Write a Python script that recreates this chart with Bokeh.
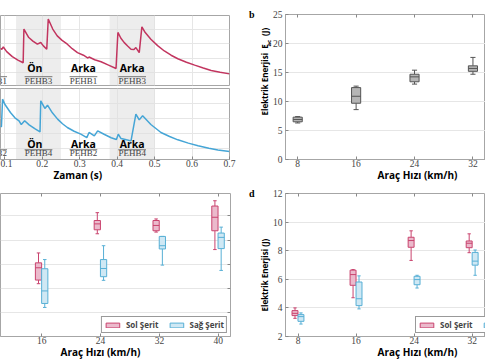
from bokeh.plotting import figure
from bokeh.layouts import column, row
from bokeh.models import BoxAnnotation, FixedTicker, Title, LinearAxis
from bokeh.core.properties import value
from bokeh.embed import file_html
from bokeh.resources import INLINE

# ---------------- data: panel a (time signals) ----------------
t_sol = [0.088, 0.092, 0.096, 0.105, 0.120, 0.135, 0.149, 0.151, 0.164, 0.175, 0.187, 0.196, 0.203,
         0.212, 0.216, 0.228, 0.240, 0.253, 0.267, 0.280, 0.294, 0.310, 0.322, 0.325, 0.340, 0.357,
         0.377, 0.397, 0.402, 0.410, 0.419, 0.428, 0.437, 0.445, 0.450, 0.459, 0.466, 0.475, 0.490,
         0.508, 0.526, 0.544, 0.562, 0.585, 0.607, 0.630, 0.651, 0.675, 0.700]
e_sol = [2.69, 2.62, 2.78, 2.45, 2.10, 1.85, 1.67, 4.05, 3.45, 3.20, 2.98, 3.10, 2.86,
         2.62, 4.76, 4.05, 3.57, 3.25, 2.98, 2.66, 2.38, 2.20, 2.00, 2.07, 1.88, 1.74,
         1.50, 1.26, 3.81, 3.40, 3.09, 2.85, 2.62, 2.60, 2.74, 2.38, 4.21, 3.80, 3.33,
         2.88, 2.50, 2.20, 1.95, 1.70, 1.50, 1.30, 1.12, 1.00, 0.88]

t_sag = [0.088, 0.091, 0.094, 0.100, 0.115, 0.127, 0.138, 0.144, 0.153, 0.165, 0.180, 0.194, 0.196,
         0.207, 0.214, 0.227, 0.241, 0.254, 0.267, 0.285, 0.303, 0.319, 0.325, 0.339, 0.348, 0.365,
         0.384, 0.398, 0.403, 0.410, 0.425, 0.437, 0.450, 0.459, 0.468, 0.490, 0.517, 0.540, 0.562,
         0.590, 0.616, 0.645, 0.669, 0.700]
e_sag = [2.50, 2.45, 4.29, 3.95, 3.40, 3.05, 2.85, 2.60, 2.85, 2.58, 2.32, 2.11, 4.18,
         3.67, 3.89, 3.38, 2.96, 2.65, 2.40, 2.15, 1.96, 1.73, 2.07, 1.84, 2.18, 1.95,
         1.72, 1.60, 1.96, 1.67, 1.58, 1.51, 3.29, 2.91, 3.18, 2.60, 2.07, 1.80, 1.58,
         1.36, 1.18, 1.02, 0.91, 0.80]

shade_start = [0.13, 0.38]
shade_end = [0.25, 0.50]

phase_t = [0.18, 0.31, 0.44]
phase_txt = ["Ön", "Arka", "Arka"]
sensor_t = [0.069, 0.19, 0.31, 0.44]
sensor_sol = ["PEHB1", "PEHB3", "PEHB1", "PEHB3"]
sensor_sag = ["PEHB2", "PEHB4", "PEHB2", "PEHB4"]
time_ticks = [0.1, 0.2, 0.3, 0.4, 0.5, 0.6, 0.7]

# ---------------- data: panel b ----------------
speeds_b = [8, 16, 24, 32]
b_low = [6.3, 8.6, 13.0, 14.7]
b_q1 = [6.5, 9.7, 13.4, 15.2]
b_med = [6.9, 10.9, 14.25, 15.7]
b_q3 = [7.3, 12.4, 14.7, 16.15]
b_high = [7.4, 12.65, 15.4, 17.6]

# ---------------- data: panel c ----------------
speeds_c = [16, 24, 32, 40]
c_sol_low = [4.38, 8.52, 8.66, 7.21]
c_sol_q1 = [4.68, 8.85, 8.77, 8.77]
c_sol_med = [5.70, 9.34, 9.21, 9.89]
c_sol_q3 = [6.11, 9.62, 9.62, 10.82]
c_sol_high = [6.93, 10.27, 9.75, 11.26]
c_sag_low = [2.41, 4.66, 5.92, 5.48]
c_sag_q1 = [2.74, 4.96, 7.26, 7.29]
c_sag_med = [3.78, 5.64, 7.53, 8.22]
c_sag_q3 = [5.62, 6.38, 8.30, 8.58]
c_sag_high = [6.38, 7.53, 8.30, 9.07]

# ---------------- data: panel d ----------------
speeds_d = [8, 16, 24, 32]
d_sol_low = [3.27, 4.71, 7.32, 7.86]
d_sol_q1 = [3.46, 5.58, 8.24, 8.21]
d_sol_med = [3.62, 6.33, 8.71, 8.52]
d_sol_q3 = [3.81, 6.64, 8.94, 8.68]
d_sol_high = [4.00, 6.68, 9.39, 9.18]
d_sag_low = [2.87, 3.93, 5.39, 6.28]
d_sag_q1 = [3.06, 4.16, 5.62, 6.99]
d_sag_med = [3.39, 4.64, 5.98, 7.27]
d_sag_q3 = [3.53, 5.81, 6.21, 7.88]
d_sag_high = [3.65, 6.24, 6.28, 8.05]

# ---------------- styles ----------------
RED = "#c2355f"
BLUE = "#45a5d6"
PINK_FILL, PINK_LINE = "#ebbacc", "#c9436e"
BLUE_FILL, BLUE_LINE = "#cfe8f4", "#57afd5"
GRAY_FILL, GRAY_LINE = "#b5b5b5", "#555555"
FRAME = "#a6a6a6"
GRID = "#e6e6e6"
SERIF = "Liberation Serif"
SANS = "Open Sans"
NB = "\u00a0"


def base(w, h, xr, yr, left, right, top, bottom):
    p = figure(width=w, height=h, x_range=xr, y_range=yr, output_backend="svg",
               toolbar_location=None, min_border_left=left, min_border_right=right,
               min_border_top=top, min_border_bottom=bottom)
    p.outline_line_color = FRAME
    p.outline_line_width = 1
    p.background_fill_color = "white"
    p.border_fill_color = "white"
    p.xgrid.grid_line_color = None
    p.ygrid.grid_line_color = GRID
    for ax in p.axis:
        ax.axis_line_color = FRAME
        ax.major_tick_in = 3
        ax.major_tick_out = 0
        ax.minor_tick_line_color = None
        ax.major_tick_line_color = "#888888"
        ax.major_label_text_font = SERIF
        ax.major_label_text_font_size = "9.5px"
        ax.major_label_text_color = "#444444"
    p.xaxis.major_label_standoff = 0
    p.yaxis.major_label_standoff = 3
    return p


def mirror_ticks(p, ticks, side):
    """MATLAB-style box: inward ticks on the opposite edge, without labels."""
    ax = LinearAxis(ticker=FixedTicker(ticks=ticks), major_label_overrides={t: "" for t in ticks},
                    axis_line_color=None, major_tick_in=3, major_tick_out=0,
                    major_tick_line_color="#888888", minor_tick_line_color=None,
                    major_label_standoff=0, major_label_text_font_size="1px")
    p.add_layout(ax, side)


def xlabel(p, offset, text):
    p.add_layout(Title(text=text, align="left", offset=offset, vertical_align="top", standoff=-4,
                       text_font=SANS, text_font_style="bold", text_font_size="10px",
                       text_color="black"), "below")


def ylabel(p, offset, text, size="8px", standoff=0, valign="bottom"):
    p.add_layout(Title(text=text, align="left", offset=offset, vertical_align=valign,
                       standoff=standoff, text_font=SANS, text_font_style="bold",
                       text_font_size=size, text_color="black"), "left")


def letter(p, tick, text):
    ax = LinearAxis(ticker=FixedTicker(ticks=[tick]), major_label_overrides={tick: text},
                    axis_line_color=None, major_tick_line_color=None, minor_tick_line_color=None,
                    major_tick_in=0, major_tick_out=0, major_label_standoff=2,
                    major_label_text_font=SERIF, major_label_text_font_style="bold",
                    major_label_text_font_size="10px", major_label_text_color="black")
    p.add_layout(ax, "left")


def draw_boxes(p, xs, off, bw, low, q1, med, q3, high, fill, line, label=None):
    x = [v + off for v in xs]
    cw = bw * 0.28
    p.segment(x0=x, y0=q3, x1=x, y1=high, line_color=line, line_width=1)
    p.segment(x0=x, y0=low, x1=x, y1=q1, line_color=line, line_width=1)
    p.segment(x0=[v - cw for v in x], y0=high, x1=[v + cw for v in x], y1=high, line_color=line, line_width=1)
    p.segment(x0=[v - cw for v in x], y0=low, x1=[v + cw for v in x], y1=low, line_color=line, line_width=1)
    kw = dict(legend_label=label) if label else {}
    p.vbar(x=x, width=bw, bottom=q1, top=q3, fill_color=fill, line_color=line, line_width=1, **kw)
    p.segment(x0=[v - bw / 2 for v in x], y0=med, x1=[v + bw / 2 for v in x], y1=med,
              line_color=line, line_width=1)


def signal_panel(w, h, yr, top, bottom, t, e, color, sensors, phase_y, sens_y, over_y, show_x):
    p = base(w, h, (0.0885, 0.70), yr, 0, 16, top, bottom)
    p.yaxis.visible = False
    p.xaxis.ticker = FixedTicker(ticks=time_ticks)
    p.yaxis.ticker = FixedTicker(ticks=[1, 2, 3, 4])
    p.xgrid.grid_line_color = GRID
    if not show_x:
        p.xaxis.visible = False
    for s0, s1 in zip(shade_start, shade_end):
        p.add_layout(BoxAnnotation(left=s0, right=s1, fill_color="#dedede", fill_alpha=0.55,
                                   line_color=None, level="underlay"))
    p.line(t, e, line_color=color, line_width=1.5)
    p.text(x=phase_t, y=[phase_y] * len(phase_t), text=phase_txt, text_font=value(SANS),
           text_font_style="bold", text_font_size="10.5px", text_align="center",
           text_baseline="middle", text_color="black")
    p.text(x=sensor_t, y=[sens_y] * len(sensor_t), text=sensors, text_font=value(SERIF),
           text_font_size="9px", text_align="center", text_baseline="middle", text_color="#444444")
    p.segment(x0=[v - 0.037 for v in sensor_t], y0=[over_y] * len(sensor_t),
              x1=[v + 0.037 for v in sensor_t], y1=[over_y] * len(sensor_t),
              line_color="#555555", line_width=0.8)
    return p


# ---- panel a ----
a1 = signal_panel(245, 86, (0.057, 5.01), 15, 1, t_sol, e_sol, RED, sensor_sol, 1.31, 0.36, 0.68, False)
a2 = signal_panel(245, 96, (0.27, 5.0), 2, 23, t_sag, e_sag, BLUE, sensor_sag, 1.29, 0.67, 0.92, True)
xlabel(a2, 53, "Zaman (s)")

# ---- panel b ----
b = base(240, 182, (6.33, 33.72), (0, 25), 38, 0, 14, 23)
b.xaxis.ticker = FixedTicker(ticks=[8, 16, 24, 32, 40])
b.yaxis.ticker = FixedTicker(ticks=[0, 5, 10, 15, 20, 25])
mirror_ticks(b, [8, 16, 24, 32, 40], "above")
draw_boxes(b, speeds_b, 0, 1.25, b_low, b_q1, b_med, b_q3, b_high, GRAY_FILL, GRAY_LINE)
xlabel(b, 92, "Araç Hızı (km/h)")
ylabel(b, 113, "ac", size="6px", standoff=-10, valign="top")
ylabel(b, 44, "Elektrik Enerjisi" + NB * 2 + "E" + NB * 4 + "(J)")
letter(b, 25, "b")

# ---- panel c ----
c = base(245, 178, (10.38, 41.67), (0, 11.86), 0, 15, 10, 24)
c.yaxis.visible = False
c.xaxis.ticker = FixedTicker(ticks=[8, 16, 24, 32, 40])
c.yaxis.ticker = FixedTicker(ticks=[2, 4, 6, 8, 10])
mirror_ticks(c, [8, 16, 24, 32, 40], "above")
mirror_ticks(c, [2, 4, 6, 8, 10], "right")
draw_boxes(c, speeds_c, -0.45, 0.85, c_sol_low, c_sol_q1, c_sol_med, c_sol_q3, c_sol_high,
           PINK_FILL, PINK_LINE, "Sol Şerit")
draw_boxes(c, speeds_c, 0.40, 0.85, c_sag_low, c_sag_q1, c_sag_med, c_sag_q3, c_sag_high,
           BLUE_FILL, BLUE_LINE, "Sağ Şerit")
xlabel(c, 60, "Araç Hızı (km/h)")

# ---- panel d ----
d = base(240, 178, (6.27, 33.83), (2, 12), 38, 0, 11, 24)
d.xaxis.ticker = FixedTicker(ticks=[8, 16, 24, 32, 40])
d.yaxis.ticker = FixedTicker(ticks=[2, 4, 6, 8, 10, 12])
mirror_ticks(d, [8, 16, 24, 32, 40], "above")
draw_boxes(d, speeds_d, -0.42, 0.82, d_sol_low, d_sol_q1, d_sol_med, d_sol_q3, d_sol_high,
           PINK_FILL, PINK_LINE, "Sol Şerit")
draw_boxes(d, speeds_d, 0.40, 0.82, d_sag_low, d_sag_q1, d_sag_med, d_sag_q3, d_sag_high,
           BLUE_FILL, BLUE_LINE, "Sağ Şerit")
xlabel(d, 92, "Araç Hızı (km/h)")
ylabel(d, 25, "Elektrik Enerjisi (J)")
letter(d, 12, "d")

for p, loc in ((c, "bottom_right"), (d, (130, 3))):
    lg = p.legend[0]
    lg.location = loc
    lg.orientation = "horizontal"
    lg.label_text_font = SANS
    lg.label_text_font_style = "bold"
    lg.label_text_font_size = "8px"
    lg.glyph_width = 17
    lg.glyph_height = 6
    lg.label_height = 6
    lg.padding = 2
    lg.spacing = 9
    lg.label_standoff = 5
    lg.margin = 3
    lg.border_line_color = "#333333"
    lg.border_line_width = 1
    lg.background_fill_alpha = 1

layout = column(row(column(a1, a2, spacing=0), b, spacing=0), row(c, d, spacing=0), spacing=0)

open("out.html", "w").write(file_html(layout, INLINE))
